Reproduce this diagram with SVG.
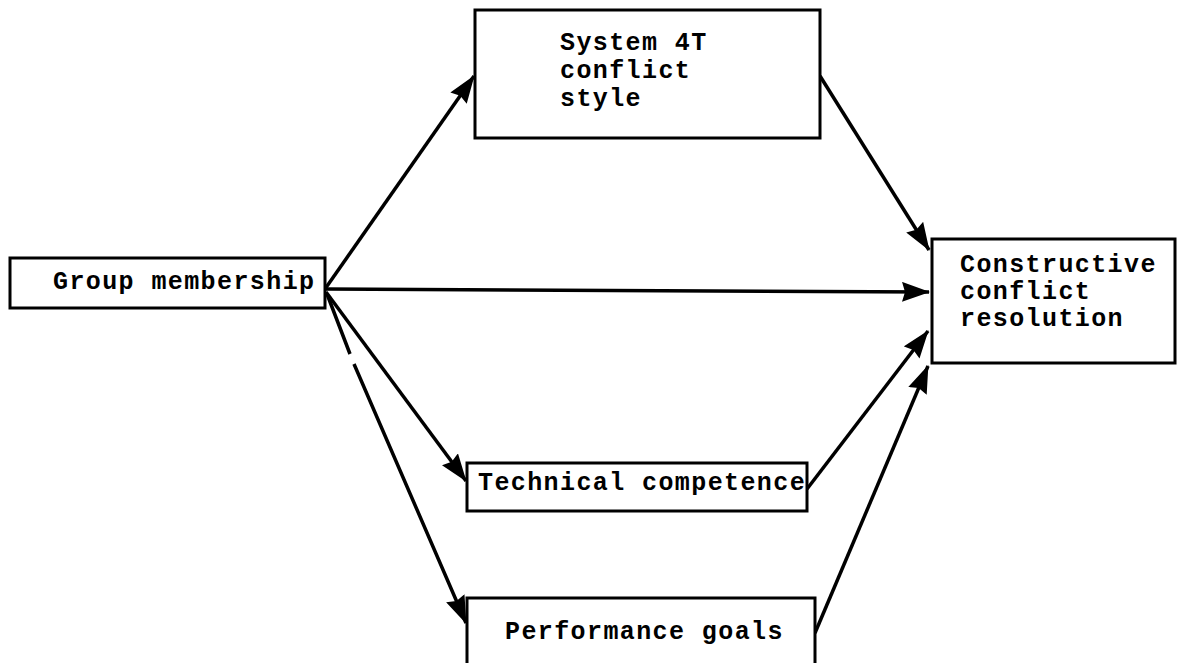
<svg xmlns="http://www.w3.org/2000/svg" width="1177" height="663" viewBox="0 0 1177 663">
  <style>
    .box { fill: #ffffff; stroke: #000000; stroke-width: 3; }
    .label { font-family: "Liberation Mono", "Courier New", monospace; font-size: 25px; letter-spacing: 1.4px; font-weight: bold; fill: #000000; }
    .edge { stroke: #000000; stroke-width: 3.5; fill: none; marker-end: url(#head); }
  </style>
  <defs>
    <marker id="head" viewBox="0 0 28 20" refX="27" refY="10" markerWidth="28" markerHeight="20" markerUnits="userSpaceOnUse" orient="auto">
      <path d="M0,0 L28,10 L0,20 L3,10 Z" fill="#000000"/>
    </marker>
  </defs>
  <rect width="1177" height="663" fill="#ffffff"/>

  <g id="connectors">
    <line class="edge" x1="325" y1="289" x2="474" y2="76"/>
    <line class="edge" x1="820" y1="76" x2="929" y2="250"/>
    <line class="edge" x1="326" y1="289" x2="929" y2="292"/>
    <line class="edge" x1="326" y1="292" x2="466" y2="481"/>
    <path class="edge" d="M327,294 L350,354 M354,364 L466,623"/>
    <line class="edge" x1="807" y1="489" x2="928" y2="331"/>
    <line class="edge" x1="815" y1="633" x2="928" y2="366"/>
  </g>

  <g id="node-group-membership">
    <rect class="box" x="10" y="258" width="315" height="50"/>
    <text class="label" x="53" y="289">Group membership</text>
  </g>

  <g id="node-system-4t">
    <rect class="box" x="475" y="10" width="345" height="128"/>
    <text class="label" x="560" y="50">System 4T</text>
    <text class="label" x="560" y="78">conflict</text>
    <text class="label" x="560" y="106">style</text>
  </g>

  <g id="node-constructive">
    <rect class="box" x="932" y="239" width="243" height="124"/>
    <text class="label" x="960" y="272">Constructive</text>
    <text class="label" x="960" y="299">conflict</text>
    <text class="label" x="960" y="326">resolution</text>
  </g>

  <g id="node-technical">
    <rect class="box" x="467" y="463" width="340" height="48"/>
    <text class="label" x="478" y="490">Technical competence</text>
  </g>

  <g id="node-performance">
    <rect class="box" x="467" y="598" width="348" height="80"/>
    <text class="label" x="505" y="639">Performance goals</text>
  </g>
</svg>
